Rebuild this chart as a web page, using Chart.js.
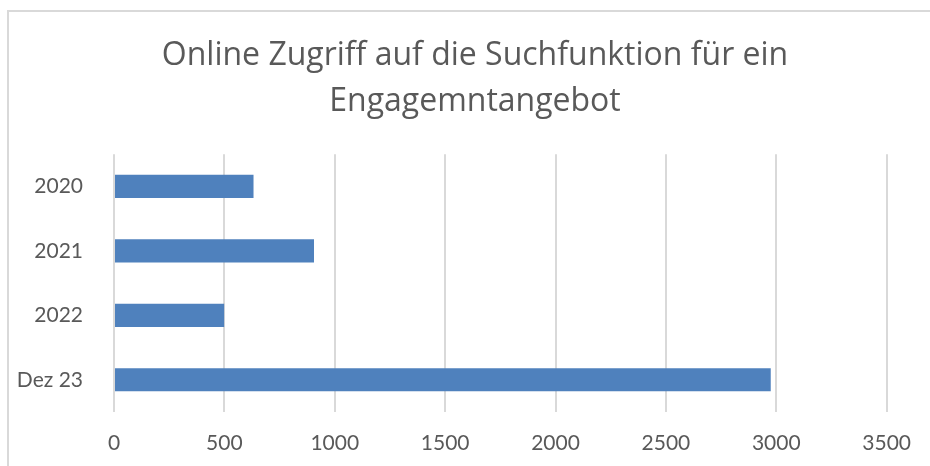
<!DOCTYPE html>
<html lang="de">
<head>
    <meta charset="UTF-8">
    <title>Online Zugriff auf die Suchfunktion</title>
    <script src="https://cdn.jsdelivr.net/npm/chart.js@4.4.1/dist/chart.umd.min.js"></script>
    <style>
        html, body { margin: 0; padding: 0; background: #fff; }
        #wrap { width: 930px; height: 466px; }
    </style>
</head>
<body>
<div id="wrap"><canvas id="myChart" width="930" height="466"></canvas></div>
<script>

    const categories = ["2020", "2021", "2022", "Dez 23"];
    const zugriffe = [632, 906, 499, 2975];
    const xTicks = [0, 500, 1000, 1500, 2000, 2500, 3000, 3500];

    const textColor = "#595959";
    const tickFont = "Lato, 'Open Sans', sans-serif";
    const titleFont = "'Open Sans', Lato, sans-serif";

    // light frame round the chart, like the office chart border;
    // the title is centred on that frame, which runs past the right edge
    const frame = {
        id: "frame",
        afterLayout(chart) {
            if (chart.titleBlock) chart.titleBlock.left = 61;
        },
        beforeDraw(chart) {
            const ctx = chart.ctx;
            ctx.save();
            ctx.strokeStyle = "#d9d9d9";
            ctx.lineWidth = 2;
            ctx.strokeRect(8, 11, chart.width + 10, chart.height + 10);
            ctx.restore();
        }
    };

    new Chart("myChart", {
        type: "bar",
        data: {
            labels: categories,
            datasets: [{
                data: zugriffe,
                backgroundColor: "#4f81bd",
                categoryPercentage: 1,
                barPercentage: 0.36
            }]
        },
        options: {
            indexAxis: "y",
            responsive: false,
            animation: false,
            layout: {
                padding: { left: 0, right: 41, top: 0, bottom: 10 }
            },
            plugins: {
                legend: { display: false },
                tooltip: { enabled: false },
                title: {
                    display: true,
                    text: ["Online Zugriff auf die Suchfunktion für ein", "Engagemntangebot"],
                    color: textColor,
                    font: { family: titleFont, size: 32, weight: 400, lineHeight: 1.44 },
                    padding: { top: 33, bottom: 29 }
                }
            },
            scales: {
                x: {
                    min: 0,
                    max: 3500,
                    afterBuildTicks(scale) {
                        scale.ticks = xTicks.map(v => ({ value: v }));
                    },
                    afterFit(scale) { scale.height = 44; },
                    grid: { color: "#d9d9d9", lineWidth: 2, drawTicks: false },
                    border: { display: false },
                    ticks: {
                        color: textColor,
                        padding: 19,
                        maxRotation: 0,
                        font: { family: tickFont, size: 21 },
                        callback: v => String(v)
                    }
                },
                y: {
                    grid: { display: false },
                    border: { display: false },
                    afterFit(scale) { scale.width = 114; },
                    ticks: {
                        color: textColor,
                        padding: 23,
                        font: { family: tickFont, size: 21 }
                    }
                }
            }
        },
        plugins: [frame]
    });
</script>
</body>
</html>
